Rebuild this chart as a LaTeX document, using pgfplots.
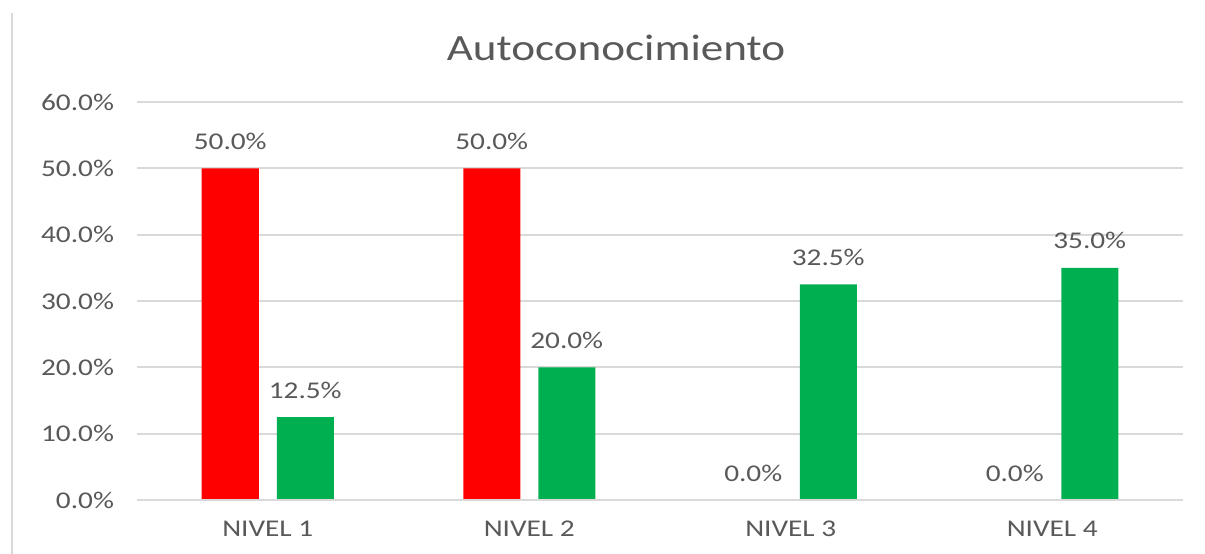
\documentclass[border=0pt]{standalone}
\usepackage{pgfplots}
\pgfplotsset{compat=1.18}
\usepackage{fontspec}
\setmainfont{Carlito}[FakeStretch=1.22]
\definecolor{txt}{HTML}{595959}
\definecolor{grd}{HTML}{D9D9D9}
\definecolor{cred}{HTML}{FF0000}
\definecolor{cgreen}{HTML}{00B050}
\begin{document}
\begin{tikzpicture}
\path[use as bounding box] (-68.5bp,-27bp) rectangle (534bp,250bp);
\draw[grd, line width=1bp] (-62.5bp,-27bp) -- (-62.5bp,243.5bp);
\begin{axis}[
  at={(0,0)}, anchor=south west,
  scale only axis, width=523bp, height=199bp,
  xmin=-0.5, xmax=3.5, ymin=0, ymax=60,
  xtick={0,1,2,3}, xticklabels={NIVEL 1,NIVEL 2,NIVEL 3,NIVEL 4},
  ytick={0,10,20,30,40,50,60},
  yticklabel={\pgfmathprintnumber[fixed,fixed zerofill,precision=1]{\tick}\%},
  /pgf/number format/assume math mode=true,
  ticklabel style={font=\fontsize{12bp}{14bp}\selectfont, text=txt},
  yticklabel style={xshift=-8bp},
  xticklabel style={yshift=-7bp},
  major tick length=0pt,
  axis line style={draw=none},
  ymajorgrids, grid style={grd, line width=0.9bp},
  ybar, bar width=28.5bp,
  nodes near coords={\pgfmathprintnumber[fixed,fixed zerofill,precision=1]{\pgfplotspointmeta}\%},
  every node near coord/.append style={font=\fontsize{12bp}{14bp}\selectfont, text=txt, anchor=base, yshift=9.5bp, inner sep=0pt},
  title={Autoconocimiento},
  title style={at={(rel axis cs:0.458,1.075)}, anchor=base, font=\fontsize{18.5bp}{20bp}\selectfont, text=txt, inner sep=0pt},
]
\addplot[fill=cred, draw=none, bar shift=-18.75bp] coordinates {(0,50) (1,50) (2,0) (3,0)};
\addplot[fill=cgreen, draw=none, bar shift=18.75bp] coordinates {(0,12.5) (1,20) (2,32.5) (3,35)};
\draw[grd, line width=0.9bp] (rel axis cs:0,0) -- (rel axis cs:1,0);
\end{axis}
\end{tikzpicture}
\end{document}
